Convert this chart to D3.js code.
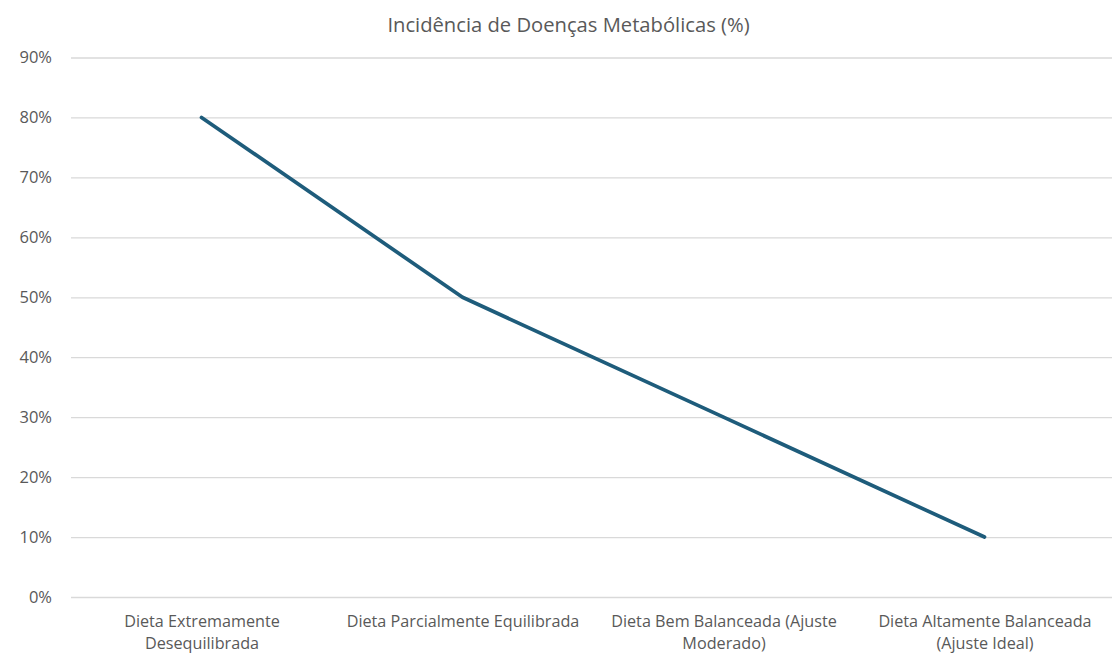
<!DOCTYPE html>
<html><head><meta charset="utf-8">
<script src="https://cdn.jsdelivr.net/npm/d3@7"></script>
<style>body{margin:0;background:#fff;} text{font-family:"Open Sans",sans-serif;}</style>
</head><body><svg id="c" width="1112" height="655"></svg>
<script>
const title = "Incidência de Doenças Metabólicas (%)";
const categories = ["Dieta Extremamente Desequilibrada","Dieta Parcialmente Equilibrada","Dieta Bem Balanceada (Ajuste Moderado)","Dieta Altamente Balanceada (Ajuste Ideal)"];
const values = [80, 50, 30, 10];
const yTicks = [0,10,20,30,40,50,60,70,80,90];

(function(){
const svg = d3.select("#c");
const mLeft = 71, mRight = 1115, mTop = 57.5, mBottom = 597;
const x = d3.scalePoint().domain(categories).range([mLeft, mRight]).padding(0.5);
const y = d3.scaleLinear().domain([0, 90]).range([mBottom, mTop]);

svg.append("text").attr("x", 568.5).attr("y", 32).attr("text-anchor","middle")
  .attr("font-size", 20.2).attr("fill","#595959").text(title);

const ya = svg.append("g").attr("transform", `translate(${mLeft},0)`)
  .call(d3.axisLeft(y).tickValues(yTicks).tickFormat(d => d + "%").tickSize(-(1112-mLeft)).tickPadding(19));
ya.select(".domain").remove();
ya.selectAll(".tick line").attr("stroke","#d9d9d9").attr("stroke-width",1.3);
ya.selectAll(".tick text").attr("font-size",16.5).attr("fill","#595959").attr("font-family","Open Sans, sans-serif");

const xa = svg.append("g").attr("transform", `translate(0,${mBottom})`)
  .call(d3.axisBottom(x).tickSize(0).tickPadding(18));
xa.select(".domain").remove();
xa.selectAll(".tick text").attr("font-size",16.2).attr("fill","#595959").attr("font-family","Open Sans, sans-serif")
  .each(function(d){
    const t = d3.select(this); const words = d.split(" "); t.text(null);
    let line = []; let ts = t.append("tspan").attr("x",0).attr("dy","0.71em");
    for (const w of words) {
      line.push(w); ts.text(line.join(" "));
      if (ts.node().getComputedTextLength() > 248 && line.length > 1) {
        line.pop(); ts.text(line.join(" ")); line = [w];
        ts = t.append("tspan").attr("x",0).attr("dy","1.4em").text(w);
      }
    }
  });

svg.append("path").datum(values)
  .attr("fill","none").attr("stroke","#1e5c7b").attr("stroke-width",3.7).attr("stroke-linecap","round").attr("stroke-linejoin","round")
  .attr("d", d3.line().x((d,i)=>x(categories[i])).y(d=>y(d)));
})();
</script></body></html>
